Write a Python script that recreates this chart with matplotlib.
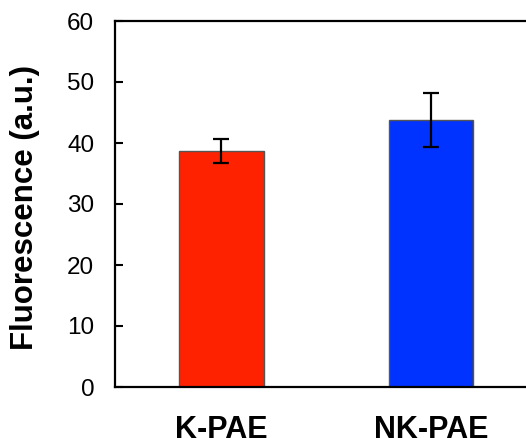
import matplotlib
matplotlib.use("Agg")
import matplotlib.pyplot as plt

categories = ["K-PAE", "NK-PAE"]
values = [38.7, 43.8]
errors = [1.95, 4.45]
colors = ["#FF2200", "#0033FF"]
yticks = [0, 10, 20, 30, 40, 50, 60]

plt.rcParams['font.family'] = ['Liberation Sans', 'DejaVu Sans']

fig = plt.figure(figsize=(5.26, 4.38), dpi=100)
ax = fig.add_axes([115/526, 51/438, 422.5/526, 366/438])

x = list(range(len(categories)))
ax.bar(x, values, width=0.405, color=colors, edgecolor="#555555", linewidth=1.0, zorder=2)
ax.errorbar(x, values, yerr=errors, fmt='none', ecolor='black', elinewidth=1.6,
            capsize=5.5, capthick=1.6, zorder=3)

ax.set_xlim(-0.508, 1.508)
ax.set_ylim(0, 60)
ax.set_yticks(yticks)
ax.set_xticks(x)
ax.set_xticklabels(categories, fontsize=22, fontweight='bold')
ax.tick_params(axis='y', direction='in', length=5.5, width=1.5, labelsize=17.5, pad=15)
ax.tick_params(axis='x', length=0, pad=20)
for s in ax.spines.values():
    s.set_linewidth(1.6)
ax.set_ylabel("Fluorescence (a.u.)", fontsize=22.5, fontweight='bold')
ax.yaxis.set_label_coords(-0.178, 0.49)

fig.savefig("out.png", dpi=100)
